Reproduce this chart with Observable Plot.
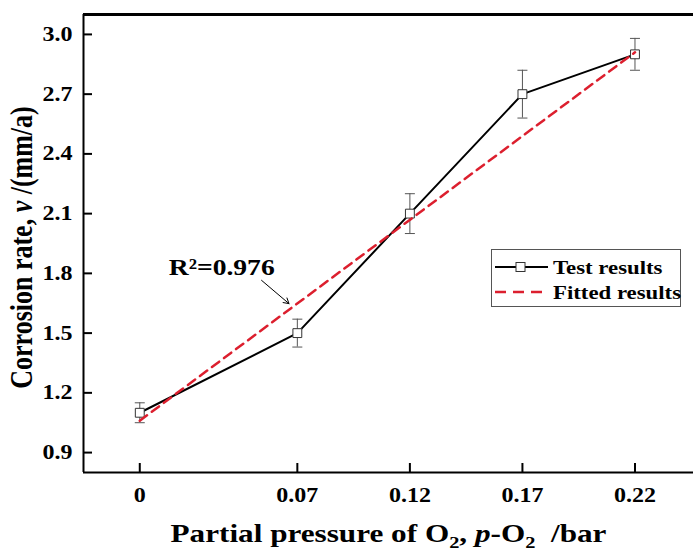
<!DOCTYPE html>
<html><head><meta charset="utf-8">
<script src="https://cdn.jsdelivr.net/npm/d3@7"></script>
<script src="https://cdn.jsdelivr.net/npm/@observablehq/plot@0.6"></script>
<style>body{margin:0;background:#fff} #chart{position:relative;width:693px;height:553px}</style>
</head><body><div id="chart"></div>
<script>
// ---- data ----
const pressures = [0, 0.07, 0.12, 0.17, 0.22];          // bar
const rates = [1.10, 1.50, 2.10, 2.70, 2.90];            // mm/a
const rateErrors = [0.05, 0.07, 0.10, 0.12, 0.08];       // +/- error
const fittedX = [0, 0.22];
const fittedY = [1.06, 2.91];
const xTicks = [0, 0.07, 0.12, 0.17, 0.22];
const yTicks = [0.9, 1.2, 1.5, 1.8, 2.1, 2.4, 2.7, 3.0];
const annotationLabel = ["R²=0.976"];
const annotationAt = [0.0364, 1.83];
const arrowFrom = [0.0541, 1.765];
const arrowTo = [0.0663, 1.648];
const legendLabels = ["Test results", "Fitted results"];
const xTitle = "Partial pressure of O2, p-O2  /bar";
const yTitle = "Corrosion rate, v /(mm/a)";

const tests = pressures.map((p, i) => ({p, v: rates[i], lo: rates[i] - rateErrors[i], hi: rates[i] + rateErrors[i]}));
const fit = fittedX.map((p, i) => ({p, v: fittedY[i]}));
const font = '"Liberation Serif","Times New Roman",serif';
const capSymbol = {draw(ctx, size) { const r = Math.sqrt(size / Math.PI); ctx.moveTo(-r, 0); ctx.lineTo(r, 0); }};
const red = "#dc1f2e";

const svg = Plot.plot({
  width: 693, height: 553,
  marginLeft: 83, marginRight: 0, marginTop: 14, marginBottom: 81,
  style: {fontFamily: font, fontWeight: "bold", fontSize: "20px", background: "white", color: "black", overflow: "visible"},
  x: {domain: [-0.025, 0.246]},
  y: {domain: [0.8, 3.1]},
  marks: [
    Plot.axisX(xTicks, {tickSize: -9, tickPadding: 24, strokeWidth: 2, tickFormat: d => String(d), fontSize: 20, label: null}),
    Plot.axisY(yTicks, {tickSize: -9, tickPadding: 20, strokeWidth: 2, tickFormat: d => d.toFixed(1), fontSize: 20, label: null}),
    Plot.ruleX([-0.025], {stroke: "black", strokeWidth: 2}),
    Plot.ruleY([0.8], {stroke: "black", strokeWidth: 2}),
    Plot.ruleY([3.1], {stroke: "black", strokeWidth: 3}),
    Plot.ruleX(tests, {x: "p", y1: "lo", y2: "hi", stroke: "#555", strokeWidth: 1}),
    Plot.dot(tests, {x: "p", y: "lo", symbol: capSymbol, r: 5, stroke: "#555", fill: "none", strokeWidth: 1}),
    Plot.dot(tests, {x: "p", y: "hi", symbol: capSymbol, r: 5, stroke: "#555", fill: "none", strokeWidth: 1}),
    Plot.line(tests, {x: "p", y: "v", stroke: "black", strokeWidth: 2}),
    Plot.dot(tests, {x: "p", y: "v", symbol: "square", r: 5, fill: "white", stroke: "#333", strokeWidth: 1}),
    Plot.line(fit, {x: "p", y: "v", stroke: red, strokeWidth: 2.5, strokeDasharray: "9,6"}),
    Plot.arrow([0], {x1: () => arrowFrom[0], y1: () => arrowFrom[1], x2: () => arrowTo[0], y2: () => arrowTo[1], stroke: "black", strokeWidth: 1, headLength: 9}),
    Plot.text(annotationLabel, {x: () => annotationAt[0], y: () => annotationAt[1], text: d => d, fontSize: 23}),
    Plot.text([xTitle], {frameAnchor: "bottom", dy: 61, text: d => d, fontSize: 26, textAnchor: "middle", lineAnchor: "middle"}),
    Plot.text([yTitle], {frameAnchor: "left", dx: -61, dy: 4, rotate: -90, text: d => d, fontSize: 26, textAnchor: "middle", lineAnchor: "middle"})
  ]
});
document.getElementById("chart").appendChild(svg);

// rich text for axis titles (subscripts / italics)
function rich(content, parts) {
  const node = Array.from(svg.querySelectorAll("text")).find(t => t.textContent === content);
  if (!node) return;
  const t = d3.select(node);
  t.text(null).attr("xml:space", "preserve").style("white-space", "pre");
  parts.forEach(([s, kind]) => {
    const ts = t.append("tspan").text(s);
    if (kind === "i") ts.attr("font-style", "italic");
    if (kind === "sub") ts.attr("font-size", 17).attr("dy", 6);
    if (kind === "after") ts.attr("dy", -6);
  });
}
rich(xTitle, [["Partial pressure of O"], ["2", "sub"], [", ", "after"], ["p", "i"], ["-O"], ["2", "sub"], ["  /bar", "after"]]);
rich(yTitle, [["Corrosion rate, "], ["v", "i"], [" /(mm/a)"]]);

// horizontal stretch of lettering, as in the reference image
svg.querySelectorAll("text").forEach(t => {
  const tr = t.getAttribute("transform") || "";
  t.setAttribute("transform", tr + (/rotate/.test(tr) ? " scale(1,1.2)" : " scale(1.2,1)"));
});

// legend
const lg = d3.select(svg).append("g").attr("font-family", font).attr("font-weight", "bold").attr("text-anchor", "start");
lg.append("rect").attr("x", 491.5).attr("y", 249.5).attr("width", 189).attr("height", 57).attr("fill", "white").attr("stroke", "#555").attr("stroke-width", 1);
lg.append("line").attr("x1", 495).attr("x2", 548).attr("y1", 267).attr("y2", 267).attr("stroke", "black").attr("stroke-width", 2);
lg.append("rect").attr("x", 516).attr("y", 262.5).attr("width", 9).attr("height", 9).attr("fill", "white").attr("stroke", "#333");
lg.append("line").attr("x1", 495).attr("x2", 548).attr("y1", 292).attr("y2", 292).attr("stroke", red).attr("stroke-width", 2.5).attr("stroke-dasharray", "11,7");
legendLabels.forEach((s, i) => {
  lg.append("text").attr("transform", `translate(553,${267 + 25 * i}) scale(1.2,1)`).attr("dy", "0.35em").attr("font-size", 19).attr("fill", "black").text(s);
});
</script>
</body></html>
